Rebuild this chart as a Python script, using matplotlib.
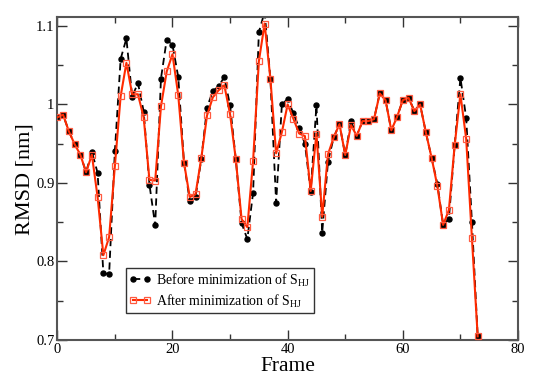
import matplotlib
matplotlib.use("Agg")
import matplotlib.pyplot as plt
from matplotlib.ticker import MultipleLocator

frames = list(range(74))
before = [0.9835, 0.987, 0.966, 0.9495, 0.936, 0.9136, 0.940, 0.9127, 0.785, 0.784,
          0.941, 1.058, 1.084, 1.0097, 1.0275, 0.991, 0.898, 0.846, 1.033, 1.0826,
          1.076, 1.035, 0.926, 0.8775, 0.882, 0.930, 0.996, 1.017, 1.023, 1.035,
          0.9987, 0.930, 0.849, 0.8284, 0.8877, 1.092, 1.118, 1.033, 0.875, 1.0004,
          1.0067, 0.9886, 0.970, 0.950, 0.889, 0.999, 0.8368, 0.927, 0.958, 0.975,
          0.9356, 0.9788, 0.960, 0.9788, 0.9788, 0.9816, 1.0145, 1.0055, 0.967, 0.9842,
          1.0055, 1.0087, 0.9918, 1.000, 0.9644, 0.932, 0.8987, 0.8466, 0.854, 0.948,
          1.034, 0.983, 0.8504, 0.7046]
after = [0.9835, 0.987, 0.966, 0.9495, 0.936, 0.9136, 0.936, 0.882, 0.808, 0.831,
         0.922, 1.0105, 1.053, 1.013, 1.013, 0.9835, 0.904, 0.903, 0.9975, 1.042,
         1.064, 1.012, 0.926, 0.882, 0.8856, 0.9314, 0.986, 1.009, 1.018, 1.0245,
         0.9877, 0.930, 0.854, 0.8437, 0.928, 1.055, 1.103, 1.033, 0.9377, 0.9648,
         1.000, 0.9817, 0.963, 0.9597, 0.8898, 0.963, 0.857, 0.9364, 0.958, 0.975,
         0.9356, 0.9737, 0.960, 0.9788, 0.9788, 0.9813, 1.014, 1.0055, 0.967, 0.9842,
         1.0055, 1.0084, 0.9915, 1.000, 0.9644, 0.932, 0.896, 0.8466, 0.8656, 0.948,
         1.013, 0.9563, 0.8297, 0.7046]

label_before = "Before minimization of S$_{\\mathrm{HJ}}$"
label_after = "After minimization of S$_{\\mathrm{HJ}}$"

plt.rcParams['font.family'] = ['Liberation Serif', 'DejaVu Serif']
plt.rcParams['mathtext.fontset'] = 'custom'
plt.rcParams['mathtext.rm'] = 'Liberation Serif'

fig = plt.figure(figsize=(5.45, 3.85), dpi=100)
ax = fig.add_axes([57.3/545, 45/385, (518-57.3)/545, (340-17.3)/385])

ax.plot(frames, before, color='black', linestyle=(0, (4, 2.5)), linewidth=1.3,
        marker='o', markersize=3.6, markerfacecolor='black', markeredgecolor='black',
        label=label_before, zorder=2)
ax.plot(frames, after, color='#ff2a00', linestyle='-', linewidth=1.5,
        marker='s', markersize=4, markerfacecolor='none', markeredgecolor='#ff5a40',
        markeredgewidth=0.9, label=label_after, zorder=3)

ax.set_xlim(0, 80)
ax.set_ylim(0.7, 1.111)
ax.xaxis.set_major_locator(MultipleLocator(20))
ax.xaxis.set_minor_locator(MultipleLocator(10))
ax.yaxis.set_minor_locator(MultipleLocator(0.05))
ax.set_yticks([0.7, 0.8, 0.9, 1.0, 1.1])
ax.set_yticklabels(['0.7', '0.8', '0.9', '1', '1.1'])
ax.tick_params(which='both', direction='in', top=True, right=True, labelsize=10.5,
               width=1, colors='#333333', labelcolor='black')
ax.tick_params(which='major', length=7, pad=2)
ax.tick_params(which='minor', length=4)
for s in ax.spines.values():
    s.set_linewidth(1.5)
    s.set_color('#555555')

ax.set_xlabel('Frame', fontsize=15.5, labelpad=1)
ax.set_ylabel('RMSD [nm]', fontsize=16, labelpad=1)

leg = ax.legend(loc='lower left', bbox_to_anchor=((125.7-57.3)/460.7, (340-313)/322.7),
                frameon=True, fancybox=False, fontsize=10, handlelength=1.6,
                numpoints=2, borderpad=0.25, labelspacing=0.25, handletextpad=0.35,
                borderaxespad=0)
leg.get_frame().set_edgecolor('black')
leg.get_frame().set_linewidth(1.0)

fig.savefig('out.png', dpi=100)
